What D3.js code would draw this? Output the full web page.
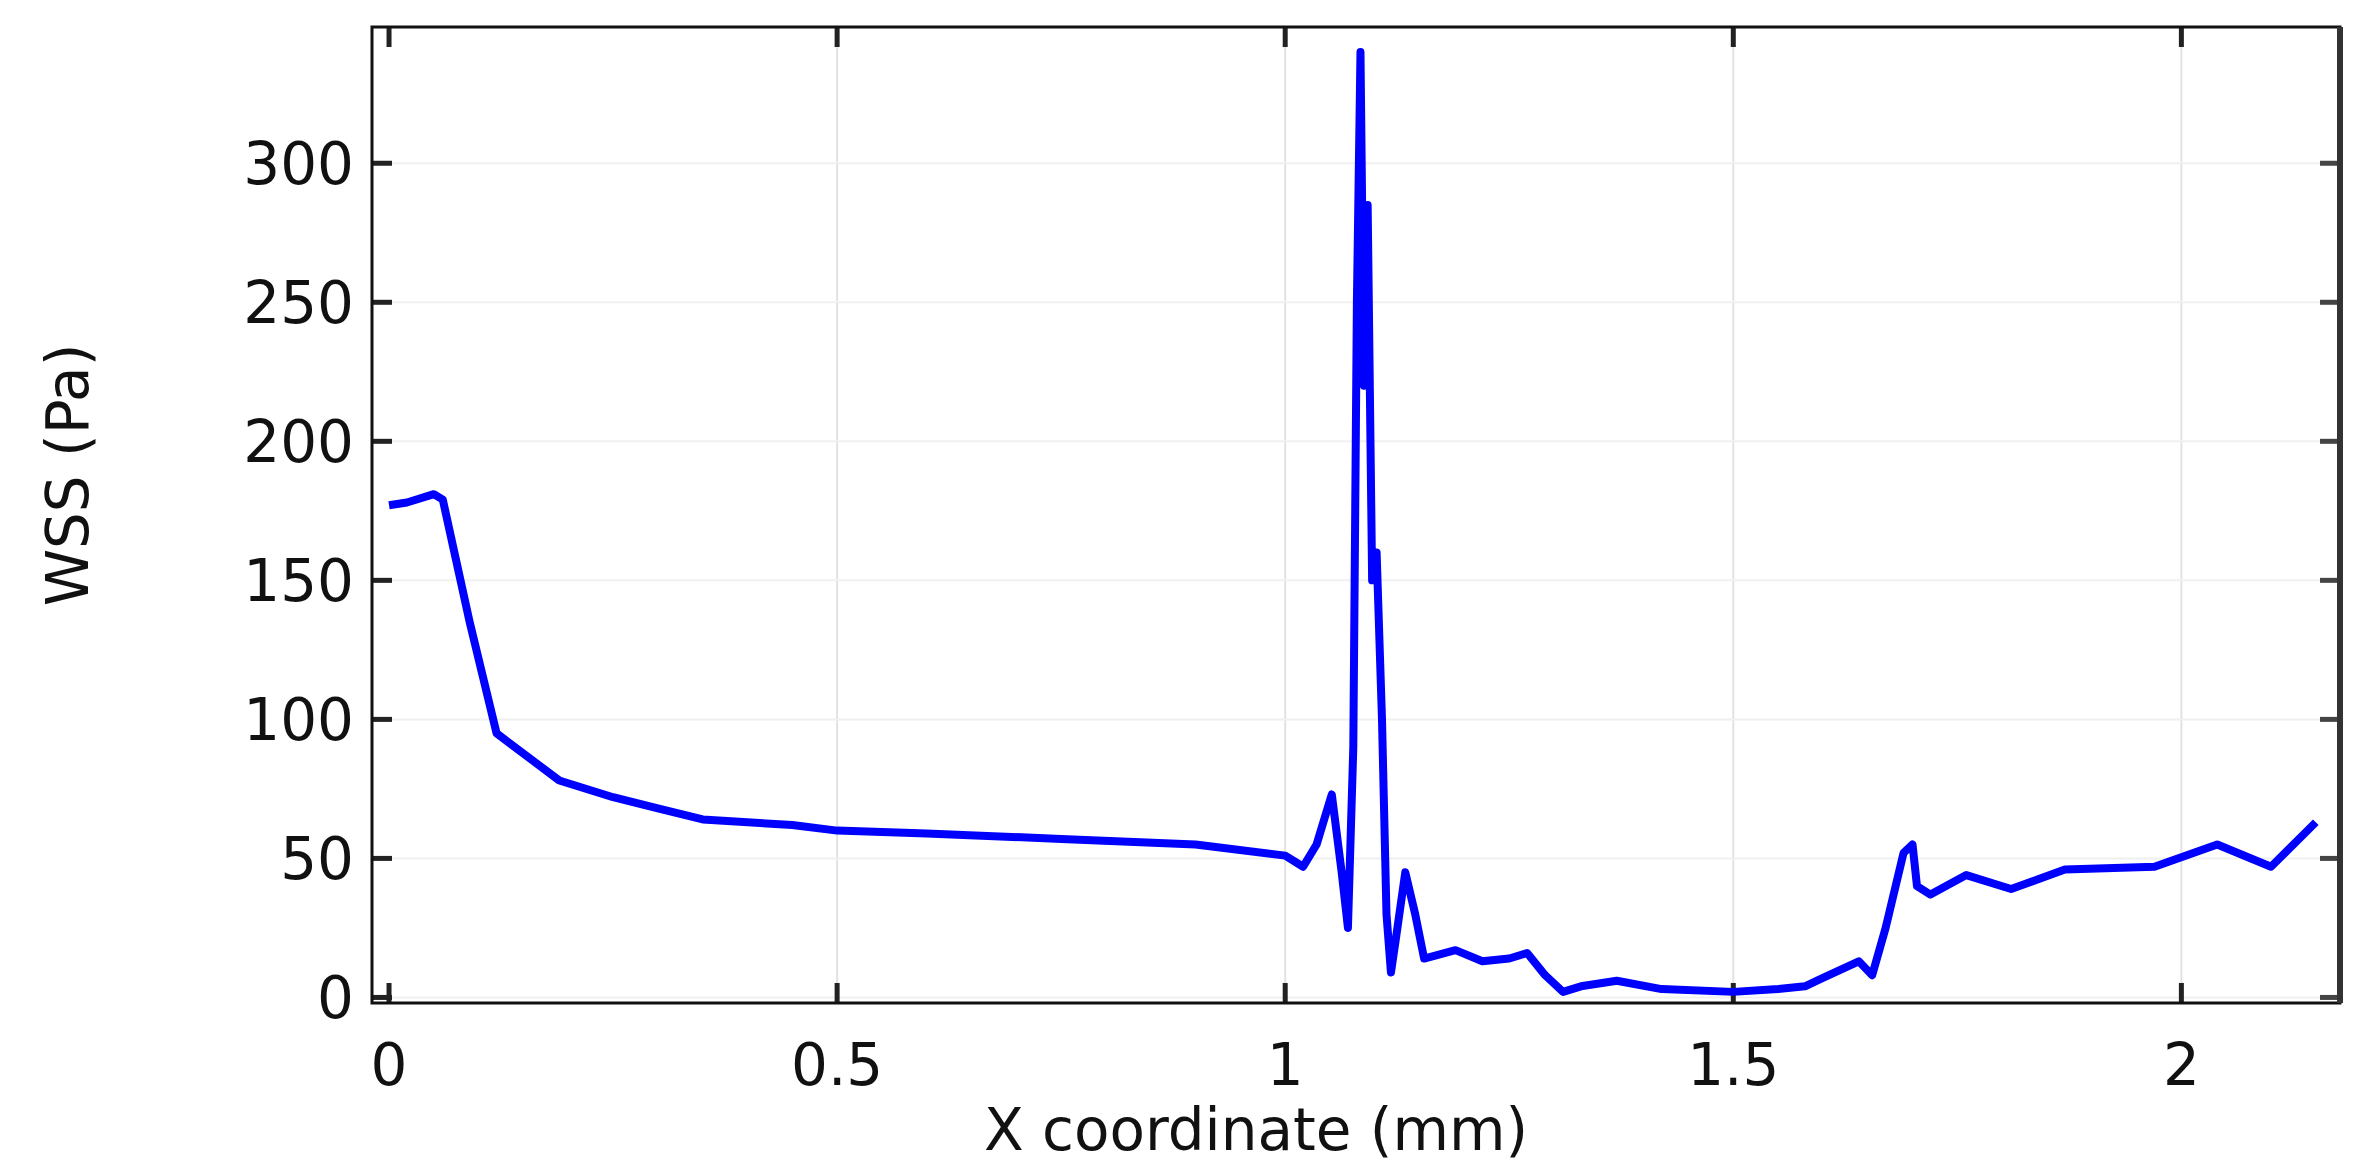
<!DOCTYPE html>
<html><head><meta charset="utf-8">
<script src="https://cdn.jsdelivr.net/npm/d3@7"></script>
<style>body{margin:0;background:#fff}</style>
</head><body><div id="chart"></div>
<script>
const xs = [0,0.02,0.05,0.06,0.09,0.12,0.19,0.25,0.3,0.35,0.45,0.5,0.6,0.75,0.9,1.0,1.02,1.035,1.052,1.063,1.07,1.076,1.08,1.084,1.088,1.092,1.097,1.102,1.108,1.113,1.118,1.123,1.134,1.145,1.155,1.19,1.22,1.25,1.27,1.29,1.31,1.33,1.37,1.42,1.5,1.55,1.58,1.6,1.64,1.655,1.67,1.69,1.7,1.705,1.72,1.76,1.81,1.87,1.97,2.04,2.1,2.15];
const wss = [177,178,181,179,135,95,78,72,68,64,62,60,59,57,55,51,47,55,73,45,25,90,250,340,220,285,150,160,100,30,9,20,45,30,14,17,13,14,16,8,2,4,6,3,2,3,4,7,13,8,25,52,55,40,37,44,39,46,47,55,47,63];
const xTicks = [0,0.5,1,1.5,2];
const yTicks = [0,50,100,150,200,250,300];

const W = 2378, H = 1174;
const m = {left:372, right:2340, top:27, bottom:1003};
const svg = d3.select("#chart").append("svg").attr("width",W).attr("height",H)
  .style("font-family","'DejaVu Sans', sans-serif");

const x = d3.scaleLinear().domain([-0.019,2.177]).range([m.left,m.right]);
const y = d3.scaleLinear().domain([-2,349]).range([m.bottom,m.top]);

// grid
svg.selectAll("line.gx").data(xTicks.slice(1)).enter().append("line")
  .attr("x1",d=>x(d)).attr("x2",d=>x(d)).attr("y1",m.top).attr("y2",m.bottom)
  .attr("stroke","#e2e2e2").attr("stroke-width",2);
svg.selectAll("line.gy").data(yTicks).enter().append("line")
  .attr("y1",d=>y(d)).attr("y2",d=>y(d)).attr("x1",m.left).attr("x2",m.right)
  .attr("stroke","#f0f0f0").attr("stroke-width",2);

// ticks on all sides, inward
const tk = 20;
const gx = svg.append("g").attr("stroke","#222").attr("stroke-width",5);
xTicks.forEach(d=>{
  gx.append("line").attr("x1",x(d)).attr("x2",x(d)).attr("y1",m.bottom).attr("y2",m.bottom-tk);
  gx.append("line").attr("x1",x(d)).attr("x2",x(d)).attr("y1",m.top).attr("y2",m.top+tk);
});
yTicks.forEach(d=>{
  gx.append("line").attr("y1",y(d)).attr("y2",y(d)).attr("x1",m.left).attr("x2",m.left+tk);
  gx.append("line").attr("y1",y(d)).attr("y2",y(d)).attr("x1",m.right).attr("x2",m.right-tk).attr("stroke","#444");
});

// line
svg.append("path").datum(xs.map((v,i)=>[v,wss[i]]))
  .attr("fill","none").attr("stroke","#0000ff").attr("stroke-width",8)
  .attr("stroke-linejoin","round")
  .attr("d",d3.line().x(d=>x(d[0])).y(d=>y(d[1])));

// frame
svg.append("rect").attr("x",m.left).attr("y",m.top).attr("width",m.right-m.left).attr("height",m.bottom-m.top)
  .attr("fill","none").attr("stroke","#111").attr("stroke-width",3);
svg.append("line").attr("x1",m.right).attr("x2",m.right).attr("y1",m.top).attr("y2",m.bottom)
  .attr("stroke","#333").attr("stroke-width",6);

// labels
svg.selectAll("text.xt").data(xTicks).enter().append("text")
  .attr("x",d=>x(d)).attr("y",1085).attr("text-anchor","middle")
  .attr("font-size",58).attr("fill","#111").text(d=>d);
svg.selectAll("text.yt").data(yTicks).enter().append("text")
  .attr("x",m.left-18).attr("y",d=>y(d)+21).attr("text-anchor","end")
  .attr("font-size",58).attr("fill","#111").text(d=>d);
svg.append("text").attr("x",(m.left+m.right)/2 - 100).attr("y",1150).attr("text-anchor","middle")
  .attr("font-size",58).attr("fill","#111").text("X coordinate (mm)");
svg.append("text").attr("transform",`translate(88,${(m.top+m.bottom)/2 - 40}) rotate(-90)`)
  .attr("text-anchor","middle").attr("font-size",58).attr("fill","#111").text("WSS (Pa)");
</script></body></html>
